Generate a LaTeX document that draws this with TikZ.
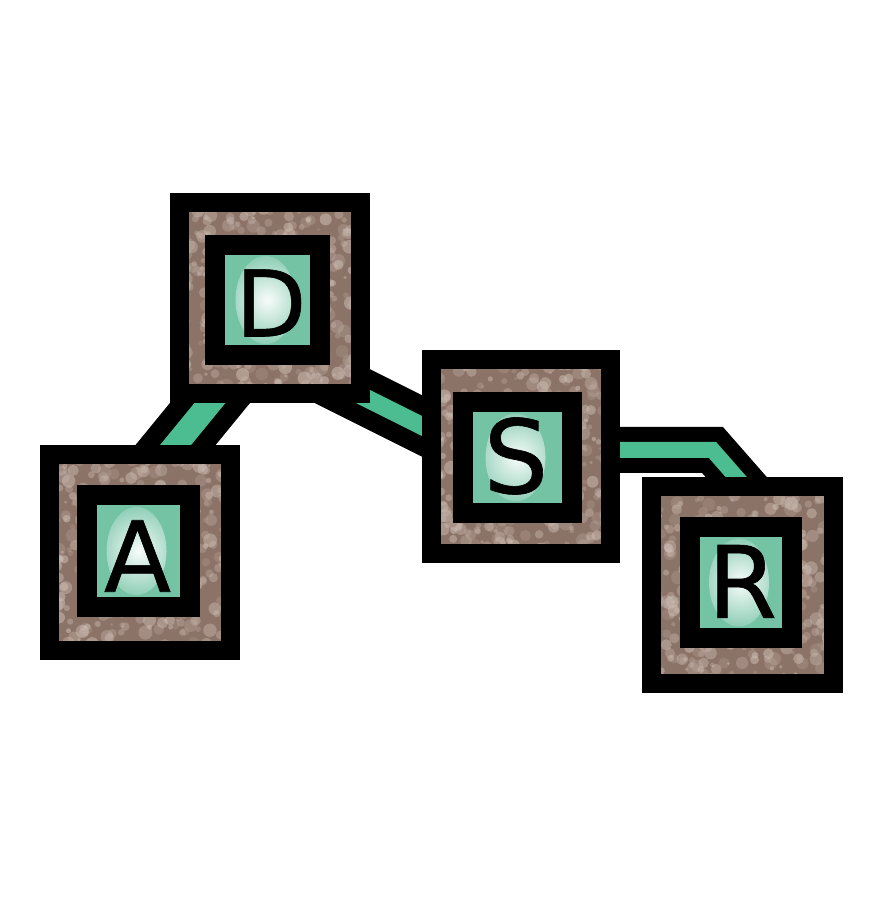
\documentclass[tikz,border=0pt]{standalone}
\usepackage{fontspec}
\setmainfont{DejaVu Sans}
\newfontfamily\letterfont{DejaVu Sans}[FakeBold=0.6]
\usetikzlibrary{calc,fadings}
\pgfdeclarelayer{background}
\pgfsetlayers{background,main}
\definecolor{brownfill}{HTML}{8C7367}
\definecolor{speck}{HTML}{CDBDB4}
\definecolor{mint}{HTML}{74C3A5}
\definecolor{linkgreen}{HTML}{4CBD91}
\tikzfading[name=softspot, inner color=transparent!5, outer color=transparent!100]
\tikzset{
  outerbox/.style={draw=black, line width=19pt, fill=brownfill, inner sep=0pt, outer sep=0pt,
    path picture={\pgfmathsetseed{#1}
      \foreach \i in {1,...,380}{
        \pgfmathsetmacro\dx{rand*92}\pgfmathsetmacro\dy{rand*100}
        \pgfmathsetmacro\rr{1.5+5.5*rnd}\pgfmathsetmacro\op{0.15+0.4*rnd}
        \fill[speck, opacity=\op] ([shift={(\dx pt,\dy pt)}]path picture bounding box.center) circle (\rr pt);}}},
  innerbox/.style={draw=black, line width=20pt, fill=mint, inner sep=0pt, outer sep=0pt,
    path picture={\fill[white, path fading=softspot] ([shift={(-2pt,0pt)}]path picture bounding box.center) ellipse (30pt and 44pt);}},
  letter/.style={font=\letterfont\fontsize{#1}{#1}\selectfont, inner sep=0pt, outer sep=0pt, text=black},
  linkblack/.style={draw=black, line width=#1, line join=miter},
  linkcore/.style={draw=linkgreen, line width=#1, line join=miter}
}
\begin{document}
\begin{tikzpicture}[x=1pt,y=1pt]
\useasboundingbox (0,0) rectangle (876,913);
% outer boxes
\node[outerbox=11, minimum width=181pt, minimum height=191pt] (D) at (270,615) {};
\node[outerbox=23, minimum width=181pt, minimum height=196pt] (A) at (140,360.5) {};
\node[outerbox=37, minimum width=179pt, minimum height=194pt] (S) at (521,456.5) {};
\node[outerbox=51, minimum width=182pt, minimum height=197pt] (R) at (742.5,328) {};
% inner boxes
\node[innerbox, minimum width=105pt, minimum height=110pt] (Di) at (267.5,613) {};
\node[innerbox, minimum width=103pt, minimum height=112pt] (Ai) at (138.5,362) {};
\node[innerbox, minimum width=109pt, minimum height=111pt] (Si) at (517.5,455.5) {};
\node[innerbox, minimum width=102pt, minimum height=111pt] (Ri) at (741,330.5) {};
% letters
\node[letter=92pt] (Dt) at (271,610) {D};
\node[letter=98pt] (At) at (137.5,357) {A};
\node[letter=102pt] (St) at (516,457) {S};
\node[letter=100pt] (Rt) at (742.5,331.5) {R};
% connector end points
\coordinate (ad1) at ($([xshift=27.8pt]A.north)!-45pt!([xshift=-52.3pt]D.south)$);
\coordinate (ad2) at ($([xshift=-52.3pt]D.south)!-45pt!([xshift=27.8pt]A.north)$);
\coordinate (ds1) at ($([yshift=-1.75pt]D.south east)!-45pt!([yshift=25.75pt]S.west)$);
\coordinate (ds2) at ($([yshift=25.75pt]S.west)!-45pt!([yshift=-1.75pt]D.south east)$);
\coordinate (SRk) at (712.5,463);
\coordinate (sr1) at ($([yshift=6.5pt]S.east)!-40pt!(SRk)$);
\coordinate (sr2) at ($([xshift=2pt]R.north)!-40pt!(SRk)$);
\begin{pgfonlayer}{background}
  \draw[linkblack=62pt] (ad1) -- (ad2);
  \draw[linkcore=24pt] (ad1) -- (ad2);
  \draw[linkblack=55pt] (ds1) -- (ds2);
  \draw[linkcore=18pt] (ds1) -- (ds2);
  \draw[linkblack=46pt] (sr1) -- (SRk) -- (sr2);
  \draw[linkcore=16pt] (sr1) -- (SRk) -- (sr2);
\end{pgfonlayer}
\end{tikzpicture}
\end{document}
